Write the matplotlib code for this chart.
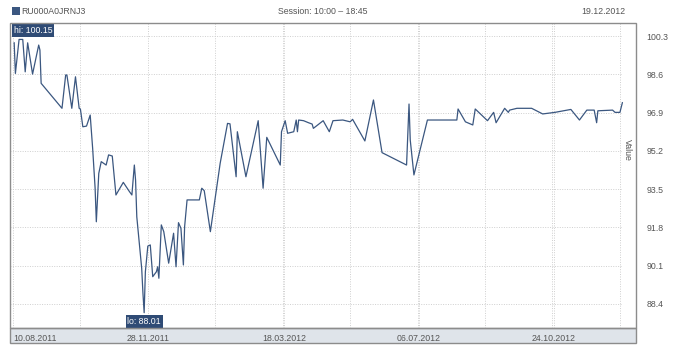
import matplotlib
matplotlib.use("Agg")
import matplotlib.pyplot as plt
from matplotlib.patches import Rectangle
import pandas as pd

plt.rcParams['font.family'] = ['Liberation Sans', 'DejaVu Sans']
FS = 6.3

# Instrument / header
isin = "RU000A0JRNJ3"
session = "Session: 10:00 \u2013 18:45"
report_date = "19.12.2012"
start_date = "2011-08-10"

# days after start_date, price value
days = [1, 2, 5, 8, 10, 12, 16, 21, 22, 23, 40, 43, 44, 48, 51, 54, 55, 57, 60, 63,
        65, 67, 68, 70, 72, 76, 78, 81, 84, 90, 95, 97, 99, 100, 101, 105, 106, 107, 108, 110,
        112, 114, 117, 118, 119, 121, 123, 127, 131, 133, 135, 137, 139, 140, 142, 152, 154, 156, 161, 169,
        175, 177, 182, 183, 190, 200, 204, 207, 218, 219, 222, 224, 229, 231, 232, 233, 237, 241, 244, 245,
        253, 258, 261, 269, 275, 277, 287, 294, 301, 321, 323, 324, 327, 338, 362, 363, 369, 375, 377, 387,
        392, 394, 401, 404, 405, 411, 423, 432, 442, 455, 462, 468, 474, 476, 477, 489, 491, 495, 497]
values = [100.00, 98.64, 100.15, 100.15, 98.71, 100.00, 98.61, 99.90, 99.68, 98.20,
          97.09, 98.57, 98.57, 97.09, 98.49, 97.09, 97.06, 96.27, 96.30, 96.79,
          95.31, 93.55, 92.05, 94.20, 94.72, 94.57, 95.02, 94.97, 93.24, 93.80,
          93.39, 93.24, 94.57, 93.90, 92.27, 89.98, 88.89, 88.01, 89.83, 90.97,
          91.02, 89.61, 89.83, 90.05, 89.54, 91.91, 91.61, 90.21, 91.54, 90.05,
          92.01, 91.76, 90.13, 91.83, 93.02, 93.02, 93.54, 93.43, 91.61, 94.65,
          96.42, 96.40, 94.05, 96.05, 94.05, 96.54, 93.54, 95.80, 94.57, 96.05,
          96.54, 95.98, 96.05, 96.57, 96.05, 96.57, 96.54, 96.45, 96.39, 96.20,
          96.54, 96.05, 96.54, 96.57, 96.49, 96.60, 95.64, 97.46, 95.12, 94.57,
          97.28, 95.68, 94.13, 96.57, 96.57, 97.06, 96.49, 96.35, 97.06, 96.54,
          96.91, 96.45, 97.09, 96.91, 97.01, 97.09, 97.09, 96.84, 96.91, 97.04,
          96.57, 97.01, 97.01, 96.45, 96.98, 97.01, 96.91, 96.91, 97.34]

y_ticks = [88.4, 90.1, 91.8, 93.5, 95.2, 96.9, 98.6, 100.3]
x_tick_labels = ["10.08.2011", "28.11.2011", "18.03.2012", "06.07.2012", "24.10.2012"]

dates = pd.to_datetime(start_date) + pd.to_timedelta(days, unit="D")
x_ticks = pd.to_datetime(x_tick_labels, format="%d.%m.%Y")
grid_x = pd.date_range(pd.to_datetime(start_date) + pd.Timedelta(days=55), periods=9, freq="55D")

W, H = 688, 345
def fx(px):
    return px / W
def fy(py):
    return 1 - py / H

line_c = "#3b5780"
box_c = "#2f4b75"
text_c = "#555555"
frame_c = "#8c8c8c"

fig = plt.figure(figsize=(W / 100, H / 100), dpi=100)
ax = fig.add_axes([fx(10), fy(328), fx(623) - fx(10), fy(23) - fy(328)])
ax.set_zorder(2)
ax.patch.set_alpha(0)

ax.plot(dates, values, color=line_c, lw=0.9)

ax.set_xlim(pd.to_datetime(start_date) - pd.Timedelta(days=2.4),
            pd.to_datetime(start_date) + pd.Timedelta(days=497.5))
ax.set_ylim(87.33, 100.88)

ax.set_yticks(y_ticks)
ax.set_yticklabels([f"{v:.1f}" for v in y_ticks])
ax.yaxis.tick_right()
ax.tick_params(axis="y", length=0, pad=17, labelsize=FS, labelcolor=text_c)

ax.set_xticks(x_ticks)
ax.set_xticklabels(x_tick_labels)
ax.set_xticks(grid_x, minor=True)
ax.tick_params(axis="x", which="both", length=0, pad=4, labelsize=FS, labelcolor=text_c)
ax.get_xticklabels()[0].set_horizontalalignment("left")

ax.grid(True, which="both", color="#cfcfcf", ls=(0, (1, 1.5)), lw=0.7)
for s in ax.spines.values():
    s.set_visible(False)

# hi / lo markers
hi = max(values)
lo = min(values)
lo_day = dates[values.index(lo)]
ax.text(0.006, 0.99, f"hi: {hi:.2f}", transform=ax.transAxes, ha="left", va="top",
        fontsize=FS, color="white",
        bbox=dict(boxstyle="square,pad=0.2", fc=box_c, ec="none"))
ax.annotate(f"lo: {lo:.2f}", xy=(lo_day, lo), xytext=(0, -3), textcoords="offset points",
            ha="center", va="top", fontsize=FS, color="white",
            bbox=dict(boxstyle="square,pad=0.2", fc=box_c, ec="none"))

# frame and date strip
fig.patches.append(Rectangle((fx(10), fy(343)), fx(636) - fx(10), fy(328) - fy(343),
                             transform=fig.transFigure, fc="#dfe4ea", ec=frame_c, lw=1, zorder=0))
fig.patches.append(Rectangle((fx(10), fy(328)), fx(636) - fx(10), fy(23) - fy(328),
                             transform=fig.transFigure, fc="none", ec=frame_c, lw=1, zorder=3))

fig.text(fx(627), fy(150), "Value", rotation=270, ha="center", va="center",
         fontsize=FS, color=text_c)

# header
fig.patches.append(Rectangle((fx(12), fy(15)), fx(8), fy(7) - fy(15),
                             transform=fig.transFigure, fc=line_c, ec="none"))
fig.text(fx(21), fy(11), isin, ha="left", va="center", fontsize=FS, color=text_c)
fig.text(fx(323), fy(11), session, ha="center", va="center", fontsize=FS, color=text_c)
fig.text(fx(625), fy(11), report_date, ha="right", va="center", fontsize=FS, color=text_c)

fig.savefig("out.png", dpi=100)
